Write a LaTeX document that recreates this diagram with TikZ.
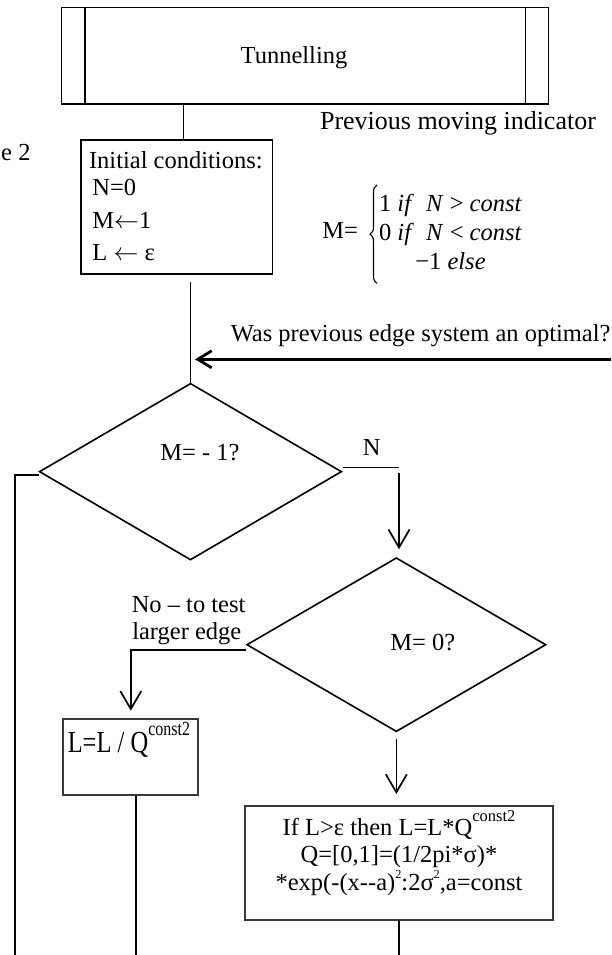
\documentclass[tikz,border=0pt]{standalone}
\usepackage{fontspec}
\setmainfont{Liberation Serif}
\usepackage{graphicx}
\usetikzlibrary{shapes.geometric,arrows.meta,calc,decorations.pathreplacing}
\newcommand\mysup[3]{\raisebox{#1}{\fontsize{#2}{#2}\selectfont #3}}
\begin{document}
\begin{tikzpicture}[x=1pt,y=-1pt,line width=1.5pt,
  txt/.style={inner sep=0pt,font=\fontsize{24.5}{28}\selectfont},
  box/.style={draw,rectangle,inner sep=0pt},
  gbox/.style={draw=black!78,line width=2pt,rectangle,inner sep=0pt},
  dia/.style={draw,diamond,inner sep=0pt,line width=1.6pt},
  arr/.style={line width=1.7pt,-{Straight Barb[length=18pt,width=21pt]}},
  bigarr/.style={line width=2.8pt,-{Straight Barb[length=14pt,width=17pt]}},
  thinline/.style={line width=1.3pt}]
\useasboundingbox (0,0) rectangle (611,955);
\clip (0,0) rectangle (611,955);
% boxes
\node[box,minimum width=486.8pt,minimum height=96.6pt,line width=1.4pt] (tun) at (305.1,55.7) {};
\draw[line width=1.4pt] ($(tun.north west)+(24,0)$) -- ($(tun.south west)+(24,0)$);
\draw[line width=1.4pt] ($(tun.north east)+(-24,0)$) -- ($(tun.south east)+(-24,0)$);
\node[txt,anchor=base] (tuntxt) at (294,64) {Tunnelling};
\node[box,minimum width=191.7pt,minimum height=134pt,line width=1.4pt] (init) at (176.85,207) {};
\node[txt,anchor=base west] (ic) at (88.3,168.3) {Initial conditions:};
\node[txt,anchor=base west] (n0) at (91.7,195.7) {N=0};
\node[txt,anchor=base west] (m1) at (91.7,228.3) {M$\leftarrow$1};
\node[txt,anchor=base west] (le) at (91.7,260) {L $\leftarrow$ ε};
\node[txt,anchor=base west] (fig) at (0.5,160) {e 2};
\node[txt,anchor=base,font=\fontsize{26}{30}\selectfont] (prev) at (458,130) {Previous moving indicator};
% formula
\node[txt,anchor=base west] (meq) at (321.7,238.3) {M=};
\draw[line width=1.1pt,decorate,decoration={brace,amplitude=7pt}] (377,283.3) -- (377,185);
\node[txt,anchor=base] (r1) at (450.5,211.7) {1 \textit{if}\ \ \textit{N} > \textit{const}};
\node[txt,anchor=base] (r2) at (450.5,240) {0 \textit{if}\ \ \textit{N} < \textit{const}};
\node[txt,anchor=base] (r3) at (450.5,269.3) {−1 \textit{else}};
\node[txt,anchor=base west] (was) at (230,341) {Was previous edge system an optimal?};
% diamonds
\node[dia,minimum width=302.4pt,minimum height=176.7pt] (d1) at (190.5,471.65) {};
\node[txt,anchor=base] (d1t) at (200,460) {M= - 1?};
\node[txt,anchor=base] (nl) at (371.7,455) {N};
\node[dia,minimum width=299.3pt,minimum height=174pt] (d2) at (396.35,644.7) {};
\node[txt,anchor=base] (d2t) at (422.7,650.7) {M= 0?};
\node[txt,anchor=base west] (no1) at (131,612.3) {No – to test};
\node[txt,anchor=base west] (no2) at (131.5,639.3) {larger edge};
% lower boxes
\node[gbox,minimum width=135pt,minimum height=75.7pt] (lbox) at (130.8,757.15) {};
\node[txt,anchor=base west] (ltxt) at (67,752) {\scalebox{1}[1.25]{L=L / Q\mysup{13pt}{16}{const2}}};
\node[gbox,minimum width=307.7pt,minimum height=114pt] (bbox) at (399.15,863) {};
\node[txt,anchor=base] (b1) at (399,835) {If L>ε then L=L*Q\mysup{13.3pt}{16.5}{const2}};
\node[txt,anchor=base] (b2) at (399,862.5) {Q=[0,1]=(1/2pi*σ)*};
\node[txt,anchor=base] (b3) at (399,890) {*exp(-(x-{}-a)\mysup{11.7pt}{12.3}{2}:2σ\mysup{11.7pt}{12.3}{2},a=const};
% connectors
\coordinate (c1) at (183.3,0);
\draw[line width=1.4pt] (tun.south -| c1) -- (init.north -| c1);
\coordinate (i1) at ([yshift=-7pt]init.south);
\draw (i1 -| d1.north) -- (d1.north);
\coordinate (optR) at (611,359.3);
\coordinate (optL) at (195,359.3);
\draw[bigarr] (optR) -- (optL);
\coordinate (w1) at ([yshift=-3.3pt]d1.west);
\coordinate (l3) at (15,955);
\draw (w1) -- (w1 -| l3) -- (l3);
\coordinate (e1) at ([yshift=4pt]d1.east);
\coordinate (nA) at (399,473.3);
\draw (e1) -- (e1 -| nA);
\coordinate (d2top) at ([yshift=7.7pt]d2.north);
\draw[arr] (nA) -- (d2top -| nA);
\coordinate (w2) at ([yshift=-5.3pt]d2.west);
\coordinate (lt) at ([yshift=7.6pt]lbox.north);
\draw[arr] (w2) -| (lt);
\coordinate (s2) at ([yshift=-6.6pt]d2.south);
\coordinate (bt) at ([yshift=11pt]bbox.north);
\draw[arr] (s2) -- (bt -| s2);
\coordinate (lb) at (136,955);
\draw[thinline] (lbox.south -| lb) -- (lb);
\coordinate (bb) at (399,955);
\draw[thinline] (bbox.south -| bb) -- (bb);
\end{tikzpicture}
\end{document}
